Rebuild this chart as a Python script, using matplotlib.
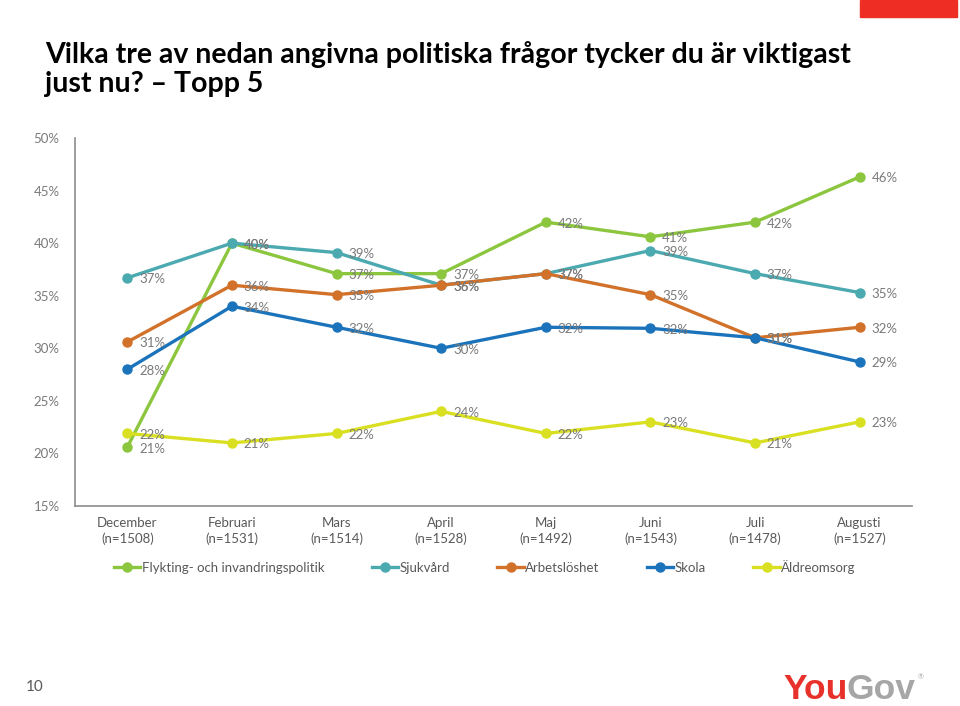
import matplotlib.pyplot as plt
from matplotlib.patches import Rectangle

months = ["December", "Februari", "Mars", "April", "Maj", "Juni", "Juli", "Augusti"]
ns = ["(n=1508)", "(n=1531)", "(n=1514)", "(n=1528)", "(n=1492)", "(n=1543)", "(n=1478)", "(n=1527)"]

flykting = [20.6, 40.0, 37.1, 37.1, 42.0, 40.6, 42.0, 46.3]
sjukvard = [36.7, 40.0, 39.1, 36.0, 37.1, 39.3, 37.1, 35.3]
arbetsloshet = [30.6, 36.0, 35.1, 36.0, 37.1, 35.1, 31.0, 32.0]
skola = [28.0, 34.0, 32.0, 30.0, 32.0, 31.9, 31.0, 28.7]
aldreomsorg = [21.9, 21.0, 21.9, 24.0, 21.9, 23.0, 21.0, 23.0]

series_names = ["Flykting- och invandringspolitik", "Sjukvård", "Arbetslöshet", "Skola", "Äldreomsorg"]
series_vals = [flykting, sjukvard, arbetsloshet, skola, aldreomsorg]
colors = ["#8cc63f", "#4ba9b0", "#d2722a", "#1b74bb", "#d9e021"]

plt.rcParams['font.family'] = ['Lato', 'DejaVu Sans']

fig = plt.figure(figsize=(9.6, 7.06), dpi=100)
ax = fig.add_axes([75/960, 1-506/706, (912-75)/960, (506-138)/706])

x = list(range(len(months)))
gray = "#595959"
lgray = "#7a7a7a"
for name, vals, c in zip(series_names, series_vals, colors):
    ax.plot(x, vals, color=c, lw=2.4, marker='o', ms=6.5, label=name, zorder=3)
    for xi, v in zip(x, vals):
        ax.annotate(f"{v:.0f}%", (xi, v), xytext=(8.5, -1), textcoords='offset points',
                    ha='left', va='center', fontsize=9.5, color=lgray, zorder=4)

ax.set_xlim(-0.5, 7.5)
ax.set_ylim(15, 50)
ax.set_yticks([15, 20, 25, 30, 35, 40, 45, 50])
ax.set_yticklabels([f"{t}%" for t in [15, 20, 25, 30, 35, 40, 45, 50]])
ax.set_xticks(x)
ax.set_xticklabels([f"{m}\n{n}" for m, n in zip(months, ns)], linespacing=1.3)
ax.tick_params(axis='both', length=0, labelsize=9.5)
ax.tick_params(axis='x', pad=8, colors=gray)
ax.tick_params(axis='y', pad=11, colors=lgray)
for s in ['top', 'right']:
    ax.spines[s].set_visible(False)
for s in ['bottom', 'left']:
    ax.spines[s].set_color('#8c8c8c')
    ax.spines[s].set_linewidth(1.2)

leg = fig.legend(loc='center', bbox_to_anchor=(0.505, 1-567/706), ncol=5, frameon=False,
                 fontsize=9.5, handlelength=2.0, handletextpad=0.1, columnspacing=3.6,
                 labelcolor=gray)

fig.text(45/960, 1-63/706, "Vilka tre av nedan angivna politiska frågor tycker du är viktigast",
         fontsize=20.5, fontweight='bold', color='black', ha='left', va='baseline')
fig.text(45/960, 1-92/706, "just nu? – Topp 5",
         fontsize=20.5, fontweight='bold', color='black', ha='left', va='baseline')

fig.patches.append(Rectangle((860/960, 1-17/706), 97/960, 17/706, transform=fig.transFigure,
                             color='#ee2d24', zorder=0))

fig.text(35/960, 1-687/706, "10", fontsize=11, color=gray, ha='center', va='center')

you = fig.text(783/960, 1-699/706, "You", fontsize=25.5, fontweight='bold', color='#e8312a',
               ha='left', va='baseline', family='Liberation Sans')
gov = fig.text(0, 0, "Gov", fontsize=25.5, fontweight='bold', color='#a6a6a6',
               ha='left', va='baseline', family='Liberation Sans',
               transform=fig.transFigure)
fig.canvas.draw()
bb = you.get_window_extent()
gov.set_position(((bb.x1 - 1) / fig.bbox.width, 1-699/706))
fig.canvas.draw()
gb = gov.get_window_extent()
fig.text((gb.x1 + 2) / fig.bbox.width, 1-677/706, "®", fontsize=5, color='#a6a6a6',
         ha='left', va='center')

fig.savefig("out.png", dpi=100)
